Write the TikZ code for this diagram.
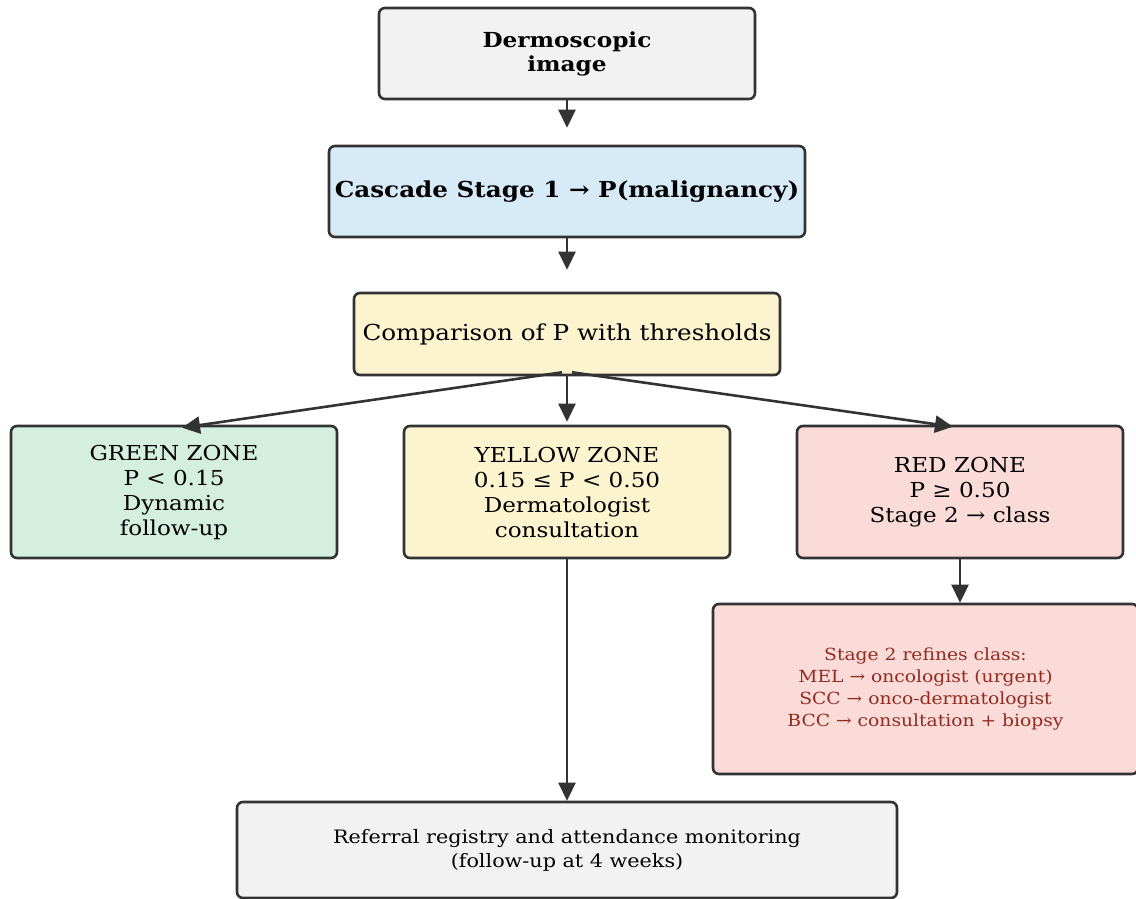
\documentclass[tikz,border=0pt]{standalone}
\usepackage{fontspec}
\setmainfont[FakeStretch=1.12]{DejaVu Serif}
\usetikzlibrary{arrows.meta,calc}
\definecolor{edge}{HTML}{333333}
\definecolor{greybg}{HTML}{F2F2F2}
\definecolor{bluebg}{HTML}{D6EAF8}
\definecolor{yellowbg}{HTML}{FCF3CF}
\definecolor{greenbg}{HTML}{D4EFDF}
\definecolor{redbg}{HTML}{FADBD8}
\definecolor{redtext}{HTML}{922B21}
\tikzset{
	box/.style={draw=edge,line width=2.6pt,rounded corners=6pt,align=center,inner sep=0pt},
	flow/.style={draw=edge,line width=2.6pt,-{Triangle[length=18pt,width=17pt]}}
}

\begin{document}
\begin{tikzpicture}[x=1pt,y=-1pt]
			\useasboundingbox (0,0) rectangle (1136,899);
			\path
			(567,53.5) coordinate (I)
			(567,191.5) coordinate (S)
			(567,334) coordinate (C)
			(174,492) coordinate (G)
			(567,492) coordinate (Y)
			(960,492) coordinate (R)
			(925.5,689) coordinate (T)
			(567,850) coordinate (M)
			;
			\node[box,fill=greybg,minimum width=376pt,minimum height=91pt,font=\fontsize{20.7}{24}\selectfont\bfseries] (img) at (I) {Dermoscopic\\image};
			\node[box,fill=bluebg,minimum width=476pt,minimum height=91pt,font=\fontsize{22}{24}\selectfont\bfseries] (stage) at (S) {Cascade Stage 1 → P(malignancy)};
			\node[box,fill=yellowbg,minimum width=426pt,minimum height=82pt,font=\fontsize{22}{24}\selectfont] (cmp) at (C) {Comparison of P with thresholds};
			\foreach \n/\c/\f/\t in {green/G/greenbg/{GREEN ZONE\\P < 0.15\\Dynamic\\follow-up},yellow/Y/yellowbg/{YELLOW ZONE\\0.15 ≤ P < 0.50\\Dermatologist\\consultation},red/R/redbg/{RED ZONE\\P ≥ 0.50\\Stage 2 → class}}
			\node[box,fill=\f,minimum width=326pt,minimum height=132pt,font=\fontsize{20.6}{25}\selectfont] (\n) at (\c) {\t};
			\node[box,fill=redbg,text=redtext,minimum width=425pt,minimum height=170pt,font=\fontsize{16.7}{21.7}\selectfont] (refine) at (T) {Stage 2 refines class:\\MEL → oncologist (urgent)\\SCC → onco-dermatologist\\BCC → consultation + biopsy};
			\node[box,fill=greybg,minimum width=660pt,minimum height=96pt,font=\fontsize{18.5}{24}\selectfont] (reg) at (M) {Referral registry and attendance monitoring\\(follow-up at 4 weeks)};
			\draw[flow,shorten >=17pt] (img) -- (stage);
			\draw[flow,shorten >=22pt] (stage) -- (cmp);
			\draw[flow] ([xshift=-5pt,yshift=4pt]cmp.south) -- ([xshift=8pt,yshift=-3pt]green.north);
			\draw[flow,shorten >=3pt] (cmp) -- (yellow);
			\draw[flow] ([xshift=5pt,yshift=4pt]cmp.south) -- ([xshift=-7pt,yshift=-2pt]red.north);
			\draw[flow] (yellow) -- (reg);
			\draw[flow] (red) -- (red |- refine.north);
		\end{tikzpicture}
\end{document}
